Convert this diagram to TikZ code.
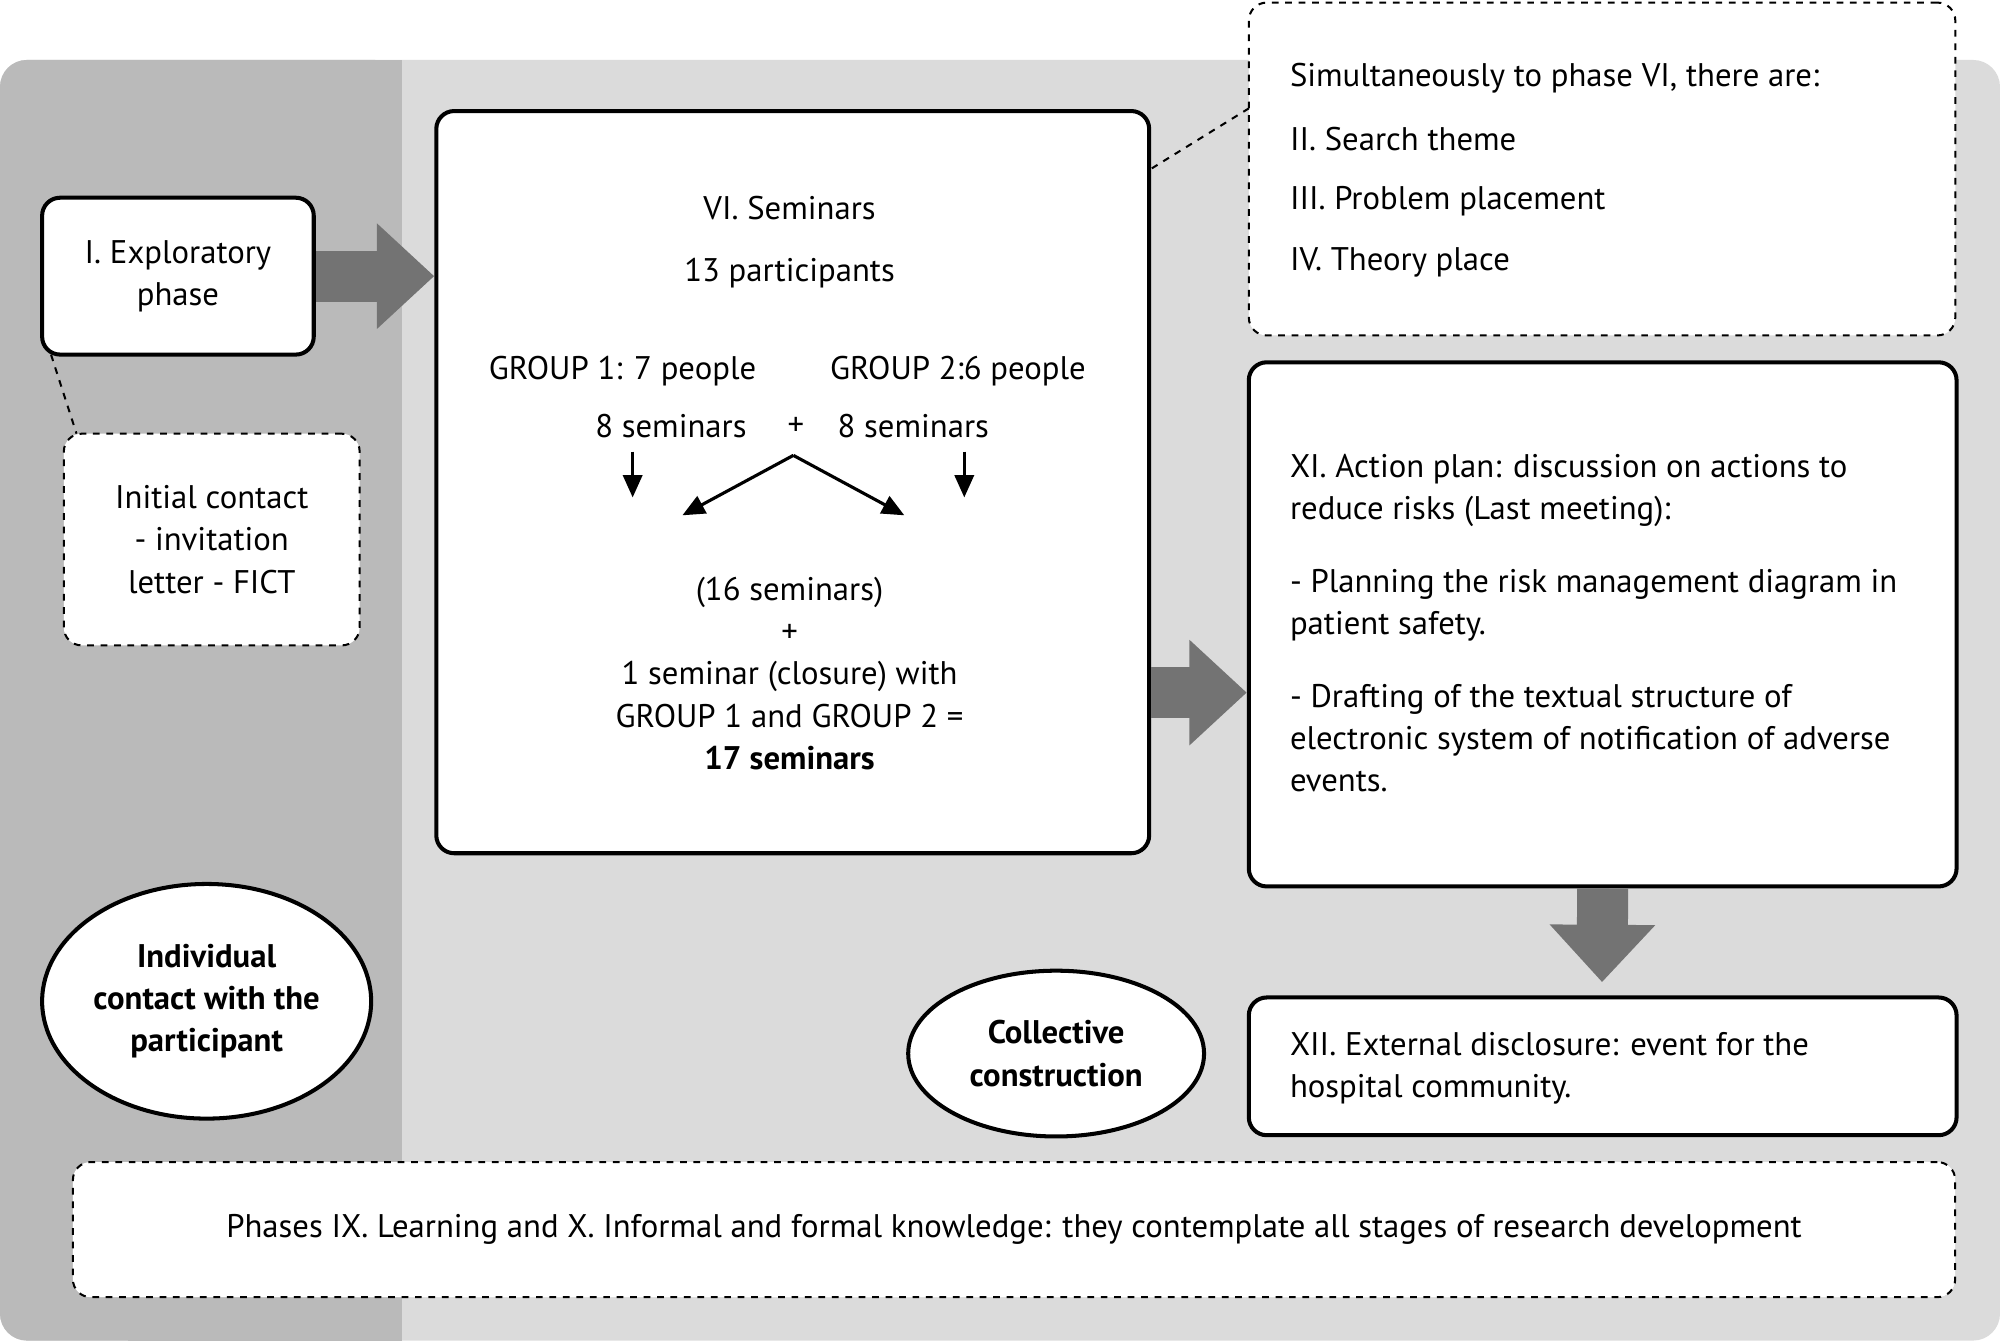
\documentclass[tikz,border=0pt]{standalone}
\usepackage{fontspec}
\setmainfont{PT Sans}
\usetikzlibrary{arrows.meta,shapes.geometric}
\begin{document}
\begin{tikzpicture}[x=0.02cm,y=-0.02cm,
  every node/.style={font=\fontsize{14.6}{18.8}\selectfont},
  box/.style={draw,line width=1.8pt,rounded corners=8pt,fill=white},
  dbox/.style={draw,line width=0.9pt,dashed,rounded corners=8pt,fill=white},
  ell/.style={draw,ellipse,line width=1.8pt,fill=white,font=\fontsize{14.6}{18.8}\selectfont\bfseries,align=center},
  big/.style={line width=0.8cm,draw=black!55,-{Triangle[length=0.9cm,width=1.6cm]}},
  small/.style={line width=1.4pt,-{Triangle[length=0.35cm,width=0.3cm]}},
  lab/.style={inner sep=0pt}]
\useasboundingbox (0,0) rectangle (1568,1051);
\fill[black!14,rounded corners=12pt] (0,47) rectangle (1568,1051);
\fill[black!27,rounded corners=12pt] (0,47) rectangle (315,1051);
\fill[black!27] (100,47) rectangle (315,1051);
\node[box,minimum width=4.26cm,minimum height=2.46cm,align=center] (I) at (139.5,216.5) {I. Exploratory\\phase};
\node[dbox,minimum width=4.64cm,minimum height=3.32cm,align=center] (ic) at (166,423) {Initial contact\\- invitation\\letter - FICT};
\draw[dashed,line width=0.9pt] (40,278) -- (60,340);
\node[box,minimum width=11.18cm,minimum height=11.64cm] (VI) at (621.5,378) {};
\node[dbox,minimum width=11.08cm,minimum height=5.22cm] (S) at (1256,132.5) {};
\node[box,minimum width=11.1cm,minimum height=8.22cm] (XI) at (1256.5,489.5) {};
\node[box,minimum width=11.1cm,minimum height=2.16cm] (XII) at (1256.5,836) {};
\node[dbox,minimum width=29.52cm,minimum height=2.12cm] (B) at (795,964) {Phases IX. Learning and X. Informal and formal knowledge: they contemplate all stages of research development};
\node[ell,minimum width=5.16cm,minimum height=3.68cm,inner sep=0pt] (ind) at (162,785) {Individual\\contact with the\\participant};
\node[ell,minimum width=4.64cm,minimum height=2.6cm,inner sep=0pt] (col) at (828,826) {Collective\\construction};
\draw[big] (I.east) -- (VI.west |- I.east);
\draw[big] (VI.east |- 0,543) -- (XI.west |- 0,543);
\draw[big] (XI.south) -- (1256,770);
\draw[dashed,line width=0.9pt] (903,132) -- (979,85);
% VI texts
\node[lab] (t1) at (619,163) {VI. Seminars};
\node[lab] (t2) at (619,214) {13 participants};
\node[lab] (g1) at (488,291) {GROUP 1: 7 people};
\node[lab] (g2) at (751,291) {GROUP 2:6 people};
\node[lab] (s1) at (526,334) {8 seminars};
\node[lab] (pl) at (624,334) {+};
\node[lab] (s2) at (716,334) {8 seminars};
\coordinate (a1) at (496,354); \coordinate (b1) at (496,390);
\coordinate (a2) at (756,354); \coordinate (b2) at (756,390);
\coordinate (apex) at (622,357); \coordinate (l) at (535,404); \coordinate (r) at (709,404);
\draw[small] (a1) -- (b1);
\draw[small] (a2) -- (b2);
\draw[small] (apex) -- (l);
\draw[small] (apex) -- (r);
\node[align=center] (t3) at (619,528) {(16 seminars)\\+\\1 seminar (closure) with\\GROUP 1 and GROUP 2 =\\\textbf{17 seminars}};
% Simultaneous
\node[lab,anchor=west] (u1) at (1011,61) {Simultaneously to phase VI, there are:};
\node[lab,anchor=west] (u2) at (1011,109) {II. Search theme};
\node[lab,anchor=west] (u3) at (1011,158) {III. Problem placement};
\node[lab,anchor=west] (u4) at (1011,206) {IV. Theory place};
% XI
\node[anchor=north west,align=left,inner sep=0pt] (x1) at (1011,356) {XI. Action plan: discussion on actions to\\reduce risks (Last meeting):};
\node[anchor=north west,align=left,inner sep=0pt] (x2) at (1011,446) {- Planning the risk management diagram in\\patient safety.};
\node[anchor=north west,align=left,inner sep=0pt] (x3) at (1011,536) {- Drafting of the textual structure of\\electronic system of notification of adverse\\events.};
\node[anchor=north west,align=left,inner sep=0pt] (x4) at (1011,809) {XII. External disclosure: event for the\\hospital community.};
\end{tikzpicture}
\end{document}
